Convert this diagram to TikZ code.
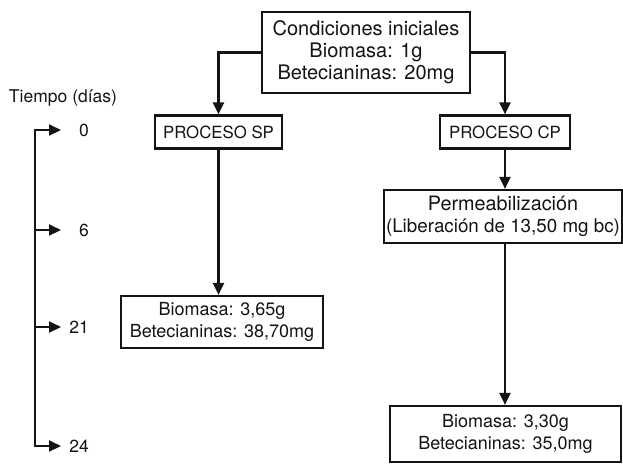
\documentclass[tikz,border=0pt]{standalone}
\usepackage{fontspec}
\setmainfont{TeX Gyre Heros}
\usepackage{xcolor}
\usepackage{tikz}
\usetikzlibrary{positioning,calc,arrows.meta}
\definecolor{ink}{HTML}{141414}
\definecolor{surf}{HTML}{FFFFFF}
\tikzset{
  box/.style      = {draw=ink, fill=surf, line width=2.2pt, inner sep=0pt, align=center, text=ink},
  txtbig/.style   = {font=\fontsize{20}{22}\selectfont},
  txt/.style      = {font=\fontsize{18}{22}\selectfont},
  txtsm/.style    = {font=\fontsize{16.8}{20}\selectfont},
  lab/.style      = {font=\fontsize{17.5}{20}\selectfont\color{ink}, inner sep=0pt},
  flow/.style     = {-{Triangle[length=12pt,width=11pt]}, draw=ink, line width=2.1pt},
  tline/.style    = {draw=ink, line width=2.1pt},
}
\begin{document}
\begin{tikzpicture}[x=1pt,y=-1pt]
\path[use as bounding box] (0,0) rectangle (623,464);

% ---- boxes ---------------------------------------------------------------
\node[box, txtbig, minimum width=208, minimum height=81] (ini) at (366,52.5)
  {Condiciones iniciales\\Biomasa: 1g\\Betecianinas: 20mg};
\node[box, txtsm, minimum width=127, minimum height=33] (sp) at (218.5,132) {PROCESO SP};
\node[box, txtsm, minimum width=130, minimum height=33] (cp) at (505,132) {PROCESO CP};
\node[box, font=\fontsize{18.8}{22}\selectfont, minimum width=238, minimum height=53] (perm) at (503,216.5)
  {{\fontsize{19.8}{22}\selectfont Permeabilización}\\(Liberación de 13,50 mg bc)};
\node[box, txt, minimum width=202, minimum height=52] (spres) at (222,322)
  {Biomasa: 3,65g\\Betecianinas: 38,70mg};
\node[box, txt, minimum width=231, minimum height=56] (cpres) at (505.5,434)
  {Biomasa: 3,30g\\Betecianinas: 35,0mg};

% ---- connectors ----------------------------------------------------------
\draw[flow] (ini.west) -| (sp.north);
\draw[flow] (ini.east) -| (cp.north);
\draw[flow] (sp.south) -- (sp.south |- spres.north);
\draw[flow] (cp.south) -- (cp.south |- perm.north);
\draw[flow] (cp.south |- perm.south) -- (cp.south |- cpres.north);

% ---- time axis -----------------------------------------------------------
\node[lab] (tiempo) at (63,98) {Tiempo (días)};
\coordinate (a0)  at (35,130);
\coordinate (a6)  at (35,230);
\coordinate (a21) at (35,327);
\coordinate (a24) at (35,446);
\coordinate (e0)  at (61,130);
\coordinate (e6)  at (61,230);
\coordinate (e21) at (61,327);
\coordinate (e24) at (61,446);
\draw[tline, {Triangle[length=12pt,width=11pt]}-{Triangle[length=12pt,width=11pt]}, line join=miter]
  (e0) -- (a0) -- (a24) -- (e24);
\draw[flow] (a6) -- (e6);
\draw[flow] (a21) -- (e21);
\node[lab, anchor=east] (d0)  at (89,130) {0};
\node[lab, anchor=east] (d6)  at (89,230) {6};
\node[lab, anchor=east] (d21) at (89,327) {21};
\node[lab, anchor=east] (d24) at (89,446) {24};

\end{tikzpicture}
\end{document}
